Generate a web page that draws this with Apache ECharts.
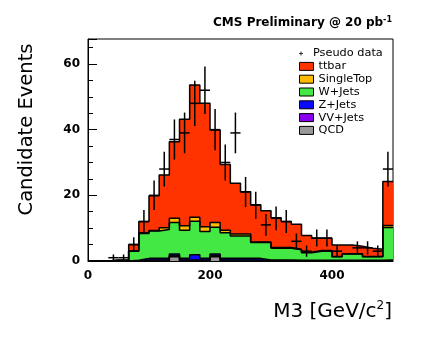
<!DOCTYPE html>
<html><head><meta charset="utf-8">
<script src="https://cdn.jsdelivr.net/npm/echarts@6/dist/echarts.min.js"></script>
<style>html,body{margin:0;padding:0;background:#fff}#c{width:436px;height:340px}</style>
</head><body><div id="c"></div>
<script>
// 30 bins over 0-500 GeV/c^2
const binWidth = 500 / 30;
const binLow = Array.from({length: 30}, (_, i) => i * binWidth);
const binCenter = binLow.map(v => v + binWidth / 2);

// MC components (events per bin), stacked bottom -> top
const qcd    = [0,0,0,0,0,0,0,0,1.3,0,0,0,1.3,0,0,0,0,0,0,0,0,0,0,0,0,0,0,0,0,0];
const vvJets = [0,0,0,0,0,0.3,0.3,0.3,0.3,0.3,0.3,0.3,0.3,0.3,0.3,0.3,0.3,0,0,0,0,0,0,0,0,0,0,0,0,0];
const zJets  = [0,0,0,0,0.2,0.5,0.5,0.5,0.5,0.5,1.6,0.5,0.5,0.5,0.5,0.5,0.5,0.3,0.3,0.3,0.2,0.2,0.2,0.2,0.2,0.2,0.2,0.2,0.2,0.3];
const wJets  = [0,0,0.2,0.3,2.8,7.6,8.3,8.8,9.6,8.6,10.2,8.2,8.2,7.8,6.8,6.8,4.8,5.3,3.6,3.6,3.2,2.3,2.8,2.8,1.1,1.9,1.9,1.1,1.1,9.9];
const singleTop = [0,0,0,0,0.1,0.2,0.2,0.5,1.3,1.3,1.2,1.4,1.4,0.8,0.6,0.6,0.2,0.2,0.2,0.2,0.2,0.2,0.2,0.2,0.1,0.1,0.1,0.1,0.1,0.6];
const ttbar  = [0,0,0,0,1.9,3.4,10.6,16.1,23.3,32.5,40.3,37.6,28.2,20.0,15.5,12.9,11.3,9.5,9.1,7.9,7.6,5.1,3.7,3.7,3.5,2.7,2.3,2.5,2.2,13.4];

// Pseudo data and its error bars
const pseudoData = [0,0,1,1,5,12,20,28,37,39,48,52,40,30,39,21,17,11,13,12,6,3,7,7,3,0,4,4,3,28];
const pseudoErr  = [0,0,1,1,2.2,3.5,4.5,5.3,6.1,6.2,6.9,7.2,6.3,5.5,6.2,4.6,4.1,3.3,3.6,3.5,2.4,1.7,2.6,2.6,1.7,0,2,2,1.7,5.3];

const xTicks = [0, 200, 400];
const yTicks = [0, 20, 40, 60];

const FONT = 'DejaVu Sans';
// bottom -> top order of the stack
const comps = [
  {name: 'QCD', data: qcd, color: '#999999'},
  {name: 'VV+Jets', data: vvJets, color: '#8a00f0'},
  {name: 'Z+Jets', data: zJets, color: '#0a0aff'},
  {name: 'W+Jets', data: wJets, color: '#44e844'},
  {name: 'SingleTop', data: singleTop, color: '#ffbb00'},
  {name: 'ttbar', data: ttbar, color: '#ff3300'}
];

// cumulative sums (THStack style): each layer is drawn from 0 up to its cumulative top
let running = binLow.map(() => 0);
comps.forEach(c => {
  running = running.map((v, i) => v + c.data[i]);
  c.cum = running.slice();
});

function stepData(arr) {
  const d = arr.map((v, i) => [binLow[i], v]);
  d.push([500, arr[arr.length - 1]]);
  return d;
}

// draw the tallest (top of stack) first, then lower layers over it
const series = comps.slice().reverse().map(c => ({
  name: c.name, type: 'line', step: 'end', symbol: 'none',
  data: stepData(c.cum),
  itemStyle: {color: c.color},
  lineStyle: {color: '#000', width: 1.5},
  areaStyle: {color: c.color, opacity: 1, origin: 'start'},
  xAxisIndex: 0, yAxisIndex: 0, animation: false, z: 2
}));

series.push({
  name: 'Pseudo data', type: 'custom', xAxisIndex: 0, yAxisIndex: 0, z: 5,
  data: binCenter.map((x, i) => [x, pseudoData[i], pseudoErr[i]]),
  encode: {x: 0, y: 1},
  itemStyle: {color: '#000'},
  renderItem: function (params, api) {
    const x = api.value(0), y = api.value(1), e = api.value(2);
    if (!(y > 0)) return {type: 'group', children: []};
    const c = api.coord([x, y]);
    const lo = api.coord([x, y - e]), hi = api.coord([x, y + e]);
    const l = api.coord([x - binWidth / 2, y]), r = api.coord([x + binWidth / 2, y]);
    return {type: 'group', children: [
      {type: 'line', shape: {x1: lo[0], y1: lo[1], x2: hi[0], y2: hi[1]}, style: {stroke: '#000', lineWidth: 1.5}},
      {type: 'line', shape: {x1: l[0], y1: c[1], x2: r[0], y2: c[1]}, style: {stroke: '#000', lineWidth: 1.5}}
    ]};
  }
});

const legendOrder = ['ttbar', 'SingleTop', 'W+Jets', 'Z+Jets', 'VV+Jets', 'QCD'];
const colorOf = {};
comps.forEach(c => colorOf[c.name] = c.color);

const chart = echarts.init(document.getElementById('c'), null, {renderer: 'canvas'});
chart.setOption({
  animation: false,
  backgroundColor: '#fff',
  grid: {left: 88, right: 43, top: 39, bottom: 79, show: true, borderColor: '#000', borderWidth: 1, z: 0},
  xAxis: [{
    type: 'value', min: 0, max: 500, interval: 200, z: 10,
    axisLine: {show: true, lineStyle: {color: '#000', width: 1}},
    axisTick: {show: false},
    splitLine: {show: false},
    axisLabel: {margin: 9, color: '#000', fontFamily: FONT, fontWeight: 'bold', fontSize: 12,
      formatter: v => (xTicks.indexOf(v) >= 0 ? String(v) : '')}
  }],
  yAxis: [{
    type: 'value', min: 0, max: 67.6, interval: 5, position: 'left', z: 10,
    axisLine: {show: true, lineStyle: {color: '#000', width: 1}},
    axisTick: {show: true, inside: true, length: 5, lineStyle: {color: '#000'}},
    axisLabel: {show: false},
    splitLine: {show: false}
  }, {
    type: 'value', min: 0, max: 67.6, interval: 20, position: 'left', z: 10,
    axisLine: {show: false},
    axisTick: {show: true, inside: true, length: 9, lineStyle: {color: '#000'}},
    axisLabel: {margin: 8, color: '#000', fontFamily: FONT, fontWeight: 'bold', fontSize: 12,
      formatter: v => (yTicks.indexOf(v) >= 0 ? String(v) : '')},
    splitLine: {show: false}
  }],
  legend: [{
    orient: 'vertical', left: 294, top: 42, itemWidth: 14, itemHeight: 4, itemGap: 0,
    selectedMode: false,
    textStyle: {fontFamily: FONT, fontSize: 11.3, color: '#000', lineHeight: 12.8},
    data: [{name: 'Pseudo data', icon: 'path://M4,0h2v4h4v2h-4v4h-2v-4h-4v-2h4z', itemStyle: {color: '#000'}}]
  }, {
    orient: 'vertical', left: 294, top: 55, itemWidth: 14, itemHeight: 8, itemGap: 0,
    selectedMode: false,
    textStyle: {fontFamily: FONT, fontSize: 11.3, color: '#000', lineHeight: 12.8},
    data: legendOrder.map(n => ({name: n, icon: 'rect',
      itemStyle: {color: colorOf[n], borderColor: '#000', borderWidth: 1}}))
  }],
  graphic: [{
    type: 'text', x: 392, y: 23, z: 20,
    style: {text: '{a|CMS Preliminary @ 20 pb}{b|-1}', align: 'right', verticalAlign: 'middle',
      rich: {a: {fontFamily: FONT, fontSize: 12, fontWeight: 'bold', fill: '#000', lineHeight: 14},
             b: {fontFamily: FONT, fontSize: 8, fontWeight: 'bold', fill: '#000', verticalAlign: 'top', lineHeight: 14}}}
  }, {
    type: 'text', x: 27, y: 129.5, rotation: Math.PI / 2, z: 20,
    style: {text: 'Candidate Events', fontFamily: FONT, fontSize: 19.5, fill: '#000', align: 'center', verticalAlign: 'middle'}
  }, {
    type: 'text', x: 392, y: 312, z: 20,
    style: {text: '{a|M3 [GeV/c}{b|2}{a|]}', align: 'right', verticalAlign: 'middle',
      rich: {a: {fontFamily: FONT, fontSize: 20, fill: '#000', lineHeight: 24},
             b: {fontFamily: FONT, fontSize: 12, fill: '#000', verticalAlign: 'top', lineHeight: 24}}}
  }],
  series: series
});
</script>
</body></html>
